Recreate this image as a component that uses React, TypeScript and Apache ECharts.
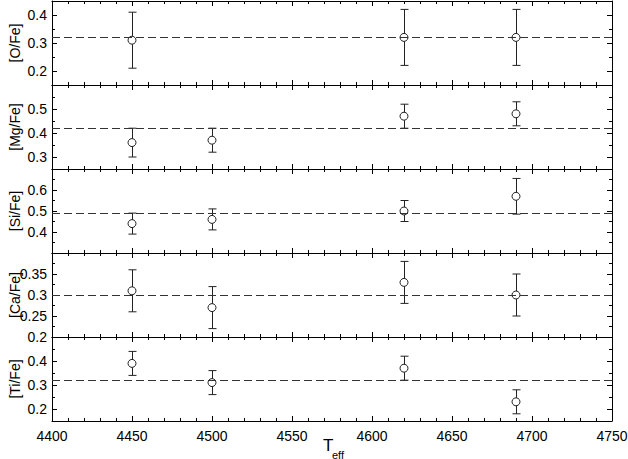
import React, { useEffect, useRef } from "react";
import * as echarts from "echarts";

// ---- data ----
const temps = [4450, 4500, 4620, 4690];
const xTickLabels = [4400, 4450, 4500, 4550, 4600, 4650, 4700, 4750];

const oFe = [0.31, null, 0.32, 0.32];
const oErr = [0.1, null, 0.1, 0.1];
const mgFe = [0.36, 0.37, 0.47, 0.48];
const mgErr = [0.06, 0.05, 0.05, 0.05];
const siFe = [0.44, 0.46, 0.5, 0.57];
const siErr = [0.05, 0.05, 0.05, 0.085];
const caFe = [0.31, 0.27, 0.33, 0.3];
const caErr = [0.05, 0.05, 0.05, 0.05];
const tiFe = [0.39, 0.31, 0.37, 0.23];
const tiErr = [0.05, 0.05, 0.05, 0.05];

const oLabels = [0.2, 0.3, 0.4];
const mgLabels = [0.3, 0.4, 0.5];
const siLabels = [0.4, 0.5, 0.6];
const caLabels = [0.2, 0.25, 0.3, 0.35];
const tiLabels = [0.2, 0.3, 0.4];

const oMajor = [0.2, 0.3, 0.4];
const mgMajor = [0.3, 0.4, 0.5];
const siMajor = [0.4, 0.5, 0.6];
const caMajor = [0.25, 0.3, 0.35];
const tiMajor = [0.2, 0.3, 0.4];

const panels = [
  { name: "[O/Fe]", vals: oFe, errs: oErr, min: 0.15, max: 0.45, step: 0.05, labels: oLabels, major: oMajor },
  { name: "[Mg/Fe]", vals: mgFe, errs: mgErr, min: 0.25, max: 0.6, step: 0.05, labels: mgLabels, major: mgMajor },
  { name: "[Si/Fe]", vals: siFe, errs: siErr, min: 0.3, max: 0.7, step: 0.05, labels: siLabels, major: siMajor },
  { name: "[Ca/Fe]", vals: caFe, errs: caErr, min: 0.2, max: 0.4, step: 0.025, labels: caLabels, major: caMajor },
  { name: "[Ti/Fe]", vals: tiFe, errs: tiErr, min: 0.15, max: 0.5, step: 0.05, labels: tiLabels, major: tiMajor },
];

const FONT = "'Liberation Sans', Arial, Helvetica, sans-serif";
const INK = "#000";
const MARK = "#222";

function buildOption() {
  const grid: any[] = [];
  const xAxis: any[] = [];
  const yAxis: any[] = [];
  const series: any[] = [];

  panels.forEach((p, i) => {
    grid.push({
      left: 52,
      width: 560,
      top: 1 + i * 84,
      height: 84,
      containLabel: false,
      outerBoundsMode: "none",
    });

    const xBase = {
      gridIndex: i,
      type: "value",
      min: 4400,
      max: 4750,
      interval: 50,
      axisLine: { show: true, onZero: false, lineStyle: { color: INK, width: 1 } },
      axisTick: { show: true, inside: true, length: 5, lineStyle: { color: INK, width: 1 } },
      minorTick: { show: true, splitNumber: 5, length: 3, lineStyle: { color: INK, width: 1 } },
      splitLine: { show: false },
      minorSplitLine: { show: false },
    };
    xAxis.push({
      ...xBase,
      position: "bottom",
      axisLabel: {
        show: i === panels.length - 1,
        customValues: xTickLabels,
        fontSize: 14,
        color: INK,
        fontFamily: FONT,
        margin: 8,
        hideOverlap: false,
        formatter: (v: number) => String(v),
      },
    });
    xAxis.push({ ...xBase, position: "top", axisLabel: { show: false } });

    const fmt = (v: number) => String(Math.round(v * 1000) / 1000);
    const yBase = {
      gridIndex: i,
      type: "value",
      min: p.min,
      max: p.max,
      interval: p.step,
      splitLine: { show: false },
    };
    // left: minor ticks + labels + name
    yAxis.push({
      ...yBase,
      position: "left",
      name: p.name,
      nameLocation: "middle",
      nameGap: 30,
      nameMoveOverlap: false,
      nameTextStyle: { fontSize: 14, color: INK, fontFamily: FONT },
      axisLine: { show: true, onZero: false, lineStyle: { color: INK, width: 1 } },
      axisTick: { show: true, inside: true, length: 3, lineStyle: { color: INK, width: 1 } },
      axisLabel: {
        show: true,
        customValues: p.labels,
        formatter: fmt,
        fontSize: 14,
        color: INK,
        fontFamily: FONT,
        margin: 5,
        hideOverlap: false,
      },
    });
    // left: major ticks
    yAxis.push({
      ...yBase,
      position: "left",
      axisLine: { show: false },
      axisTick: { show: true, inside: true, length: 5, customValues: p.major, lineStyle: { color: INK, width: 1 } },
      axisLabel: { show: false },
    });
    // right: minor ticks
    yAxis.push({
      ...yBase,
      position: "right",
      axisLine: { show: true, onZero: false, lineStyle: { color: INK, width: 1 } },
      axisTick: { show: true, inside: true, length: 3, lineStyle: { color: INK, width: 1 } },
      axisLabel: { show: false },
    });
    // right: major ticks
    yAxis.push({
      ...yBase,
      position: "right",
      axisLine: { show: false },
      axisTick: { show: true, inside: true, length: 5, customValues: p.major, lineStyle: { color: INK, width: 1 } },
      axisLabel: { show: false },
    });

    const pts: number[][] = [];
    const bars: number[][] = [];
    temps.forEach((t, k) => {
      const v = p.vals[k];
      const e = p.errs[k];
      if (v == null || e == null) return;
      pts.push([t, v]);
      bars.push([t, v - e, v + e]);
    });
    const valid = p.vals.filter((v) => v != null) as number[];
    const mean = valid.reduce((a, b) => a + b, 0) / valid.length;

    series.push({
      type: "custom",
      xAxisIndex: 2 * i,
      yAxisIndex: 4 * i,
      data: bars,
      encode: { x: 0, y: [1, 2] },
      z: 3,
      silent: true,
      renderItem: (params: any, api: any) => {
        const x = api.value(0);
        const top = api.coord([x, api.value(2)]);
        const bot = api.coord([x, api.value(1)]);
        const cx = Math.round(top[0]) + 0.5;
        const st = { stroke: MARK, lineWidth: 1 };
        return {
          type: "group",
          children: [
            { type: "line", shape: { x1: cx, y1: top[1], x2: cx, y2: bot[1] }, style: st },
            { type: "line", shape: { x1: cx - 4, y1: top[1], x2: cx + 4, y2: top[1] }, style: st },
            { type: "line", shape: { x1: cx - 4, y1: bot[1], x2: cx + 4, y2: bot[1] }, style: st },
          ],
        };
      },
    });
    series.push({
      type: "scatter",
      xAxisIndex: 2 * i,
      yAxisIndex: 4 * i,
      data: pts,
      symbol: "circle",
      symbolSize: 8,
      z: 4,
      itemStyle: { color: "#fff", borderColor: MARK, borderWidth: 1, opacity: 1 },
      silent: true,
      markLine: {
        silent: true,
        symbol: "none",
        label: { show: false },
        lineStyle: { color: "#333", width: 1, type: [8, 4] },
        data: [{ yAxis: mean }],
      },
    });
  });

  return {
    animation: false,
    backgroundColor: "#fff",
    textStyle: { fontFamily: FONT },
    grid,
    xAxis,
    yAxis,
    series,
    graphic: [
      {
        type: "text",
        left: 323,
        top: 437,
        style: { text: "T", fontSize: 17, fill: INK, fontFamily: FONT },
      },
      {
        type: "text",
        left: 332,
        top: 449,
        style: { text: "eff", fontSize: 11, fill: INK, fontFamily: FONT },
      },
    ],
  };
}

export default function App() {
  const ref = useRef<HTMLDivElement>(null);
  useEffect(() => {
    if (!ref.current) return;
    const chart = echarts.init(ref.current, undefined, { renderer: "svg" });
    chart.setOption(buildOption() as any);
    return () => chart.dispose();
  }, []);
  return (
    <div
      ref={ref}
      style={{ position: "fixed", left: 0, top: 0, width: 628, height: 459, background: "#fff" }}
    />
  );
}
